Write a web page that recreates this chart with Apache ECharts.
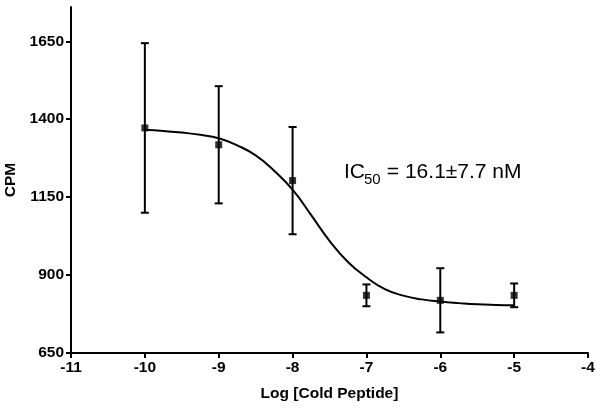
<!DOCTYPE html>
<html>
<head>
<meta charset="utf-8">
<script src="https://cdn.jsdelivr.net/npm/echarts@6/dist/echarts.min.js"></script>
<style>
html,body{margin:0;padding:0;background:#fff;}
#main{width:600px;height:408px;}
</style>
</head>
<body>
<div id="main"></div>
<script>
// ---- data ----
const logConc = [-10, -9, -8, -7, -6, -5];
const cpmMean = [1372, 1318, 1203, 835, 819, 835];
const cpmErr  = [272, 188, 172, 35, 103, 38];

const fitX = [-10, -9.75, -9.5, -9.25, -9, -8.75, -8.5, -8.25, -8, -7.75, -7.5, -7.25, -7, -6.75, -6.5, -6.25, -6, -5.75, -5.5, -5.25, -5];
const fitY = [1366, 1362, 1357, 1350, 1339, 1316, 1284, 1235, 1174, 1093, 1010, 942, 893, 855, 834, 822, 815, 810, 806, 804, 803];

const yTicks = [650, 900, 1150, 1400, 1650];
const xTicks = [-11, -10, -9, -8, -7, -6, -5, -4];

const FONT = '"Liberation Sans", Arial, sans-serif';

const chart = echarts.init(document.getElementById('main'));

const points = logConc.map((x, i) => [x, cpmMean[i]]);
const bars = logConc.map((x, i) => [x, cpmMean[i] - cpmErr[i], cpmMean[i] + cpmErr[i]]);
const curve = fitX.map((x, i) => [x, fitY[i]]);

chart.setOption({
  animation: false,
  backgroundColor: '#ffffff',
  grid: { left: 71, right: 12, top: 7, bottom: 55, containLabel: false, outerBoundsMode: 'none' },
  xAxis: {
    type: 'value',
    min: -11, max: -4, interval: 1,
    name: 'Log [Cold Peptide]',
    nameLocation: 'middle',
    nameGap: 33,
    nameTextStyle: { fontFamily: FONT, fontWeight: 'bold', fontSize: 15.5, color: '#000' },
    axisLine: { show: true, onZero: false, lineStyle: { color: '#000', width: 2 } },
    axisTick: { show: true, inside: false, length: 5, lineStyle: { color: '#000', width: 2 }, customValues: xTicks },
    axisLabel: { fontFamily: FONT, fontWeight: 'bold', fontSize: 15.5, color: '#000', margin: 7, customValues: xTicks,
      formatter: v => String(v) },
    splitLine: { show: false }
  },
  yAxis: {
    type: 'value',
    min: 650, max: 1760,
    name: 'CPM',
    nameLocation: 'middle',
    nameRotate: 90,
    nameGap: 51,
    nameTextStyle: { fontFamily: FONT, fontWeight: 'bold', fontSize: 15.5, color: '#000' },
    axisLine: { show: true, onZero: false, lineStyle: { color: '#000', width: 2 } },
    axisTick: { show: true, inside: false, length: 5, lineStyle: { color: '#000', width: 2 }, customValues: yTicks },
    axisLabel: { fontFamily: FONT, fontWeight: 'bold', fontSize: 15.5, color: '#000', margin: 7, customValues: yTicks,
      formatter: v => String(v) },
    splitLine: { show: false }
  },
  graphic: [
    { type: 'text', left: 344, top: 162, style: { text: 'IC', font: '21px ' + FONT, fill: '#000' } },
    { type: 'text', left: 364, top: 172, style: { text: '50', font: '15px ' + FONT, fill: '#000' } },
    { type: 'text', left: 381, top: 162, style: { text: ' = 16.1\u00B17.7 nM', font: '21px ' + FONT, fill: '#000' } }
  ],
  series: [
    {
      type: 'line',
      data: curve,
      smooth: 0.5,
      showSymbol: false,
      symbol: 'none',
      lineStyle: { color: '#000', width: 2 },
      z: 2
    },
    {
      type: 'custom',
      data: bars,
      renderItem: function (params, api) {
        const x = api.value(0);
        const lo = api.coord([x, api.value(1)]);
        const hi = api.coord([x, api.value(2)]);
        const hw = 4;
        const st = { stroke: '#000', lineWidth: 2 };
        return {
          type: 'group',
          children: [
            { type: 'line', shape: { x1: lo[0], y1: lo[1], x2: hi[0], y2: hi[1] }, style: st },
            { type: 'line', shape: { x1: hi[0] - hw, y1: hi[1], x2: hi[0] + hw, y2: hi[1] }, style: st },
            { type: 'line', shape: { x1: lo[0] - hw, y1: lo[1], x2: lo[0] + hw, y2: lo[1] }, style: st }
          ]
        };
      },
      z: 3
    },
    {
      type: 'scatter',
      data: points,
      symbol: 'rect',
      symbolSize: 7,
      itemStyle: { color: '#000' },
      z: 4
    }
  ]
});
</script>
</body>
</html>
